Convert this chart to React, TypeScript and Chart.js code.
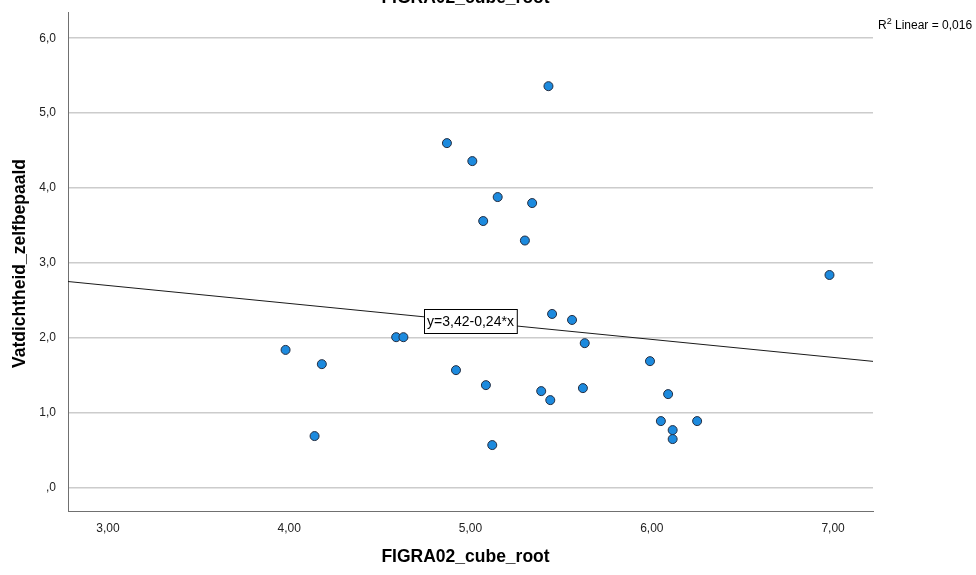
import React, { useEffect, useRef } from "react";
import { Chart, registerables } from "chart.js";

Chart.register(...registerables);

// ---- Data ----
const figraCubeRoot: number[] = [
  3.98, 4.18, 4.14, 4.59, 4.63, 4.92, 5.085, 5.12, 5.43, 4.87,
  5.01, 5.15, 5.34, 5.07, 5.30, 5.45, 5.56, 5.63, 5.99, 5.39,
  5.44, 5.62, 6.09, 6.05, 6.115, 6.115, 6.25, 6.98,
];
const vatdichtheid: number[] = [
  1.84, 1.65, 0.69, 2.01, 2.01, 1.57, 1.37, 0.57, 5.36, 4.60,
  4.36, 3.88, 3.80, 3.56, 3.30, 2.32, 2.24, 1.93, 1.69, 1.29,
  1.17, 1.33, 1.25, 0.89, 0.77, 0.65, 0.89, 2.84,
];

const xTicks: number[] = [3, 4, 5, 6, 7];
const xTickLabels: string[] = ["3,00", "4,00", "5,00", "6,00", "7,00"];
const yTicks: number[] = [0, 1, 2, 3, 4, 5, 6];
const yTickLabels: string[] = [",0", "1,0", "2,0", "3,0", "4,0", "5,0", "6,0"];

const X_MIN = 2.78;
const X_MAX = 7.22;
const Y_MIN = -0.31;
const Y_MAX = 6.35;

// Fit line (from the label in the chart)
const fitIntercept = 3.42;
const fitSlope = -0.24;
const fitLabel = "y=3,42-0,24*x";
const fitLabelAtX = 5;
const rSquaredText = " Linear = 0,016";

const chartTitle = "FIGRA02_cube_root";
const xTitle = "FIGRA02_cube_root";
const yTitle = "Vatdichtheid_zelfbepaald";

const FONT = '"Liberation Sans", Arial, sans-serif';

const textPlugin = {
  id: "spssTexts",
  afterDatasetsDraw(chart: any) {
    const { ctx, chartArea, scales } = chart;
    const xs = scales.x;
    const ys = scales.y;
    const cx = (chartArea.left + chartArea.right) / 2 - 5;
    const cy = (chartArea.top + chartArea.bottom) / 2 + 2;

    ctx.save();
    // equation box
    const lx = xs.getPixelForValue(fitLabelAtX);
    const ly = ys.getPixelForValue(fitIntercept + fitSlope * fitLabelAtX);
    ctx.font = `14px ${FONT}`;
    const tw = ctx.measureText(fitLabel).width;
    const bw = tw + 6;
    const bh = 24;
    const bx = Math.round(lx - bw / 2) + 0.5;
    const by = Math.round(ly - bh / 2) + 0.5;
    ctx.fillStyle = "#ffffff";
    ctx.fillRect(bx, by, bw, bh);
    ctx.strokeStyle = "#000000";
    ctx.lineWidth = 1;
    ctx.strokeRect(bx, by, bw, bh);
    ctx.fillStyle = "#000000";
    ctx.textAlign = "center";
    ctx.textBaseline = "middle";
    ctx.fillText(fitLabel, lx, ly + 1);

    // titles
    ctx.fillStyle = "#000000";
    ctx.font = `bold 17.5px ${FONT}`;
    ctx.textAlign = "center";
    ctx.textBaseline = "alphabetic";
    ctx.fillText(chartTitle, cx, 3);

    ctx.textBaseline = "middle";
    ctx.fillText(xTitle, cx, 557);

    ctx.save();
    ctx.translate(20, cy);
    ctx.rotate(-Math.PI / 2);
    ctx.fillText(yTitle, 0, 0);
    ctx.restore();

    // R^2 text
    ctx.font = `12px ${FONT}`;
    ctx.textAlign = "left";
    ctx.textBaseline = "middle";
    let tx = chartArea.right + 5;
    const ty = 26;
    ctx.fillText("R", tx, ty);
    tx += ctx.measureText("R").width;
    ctx.font = `9px ${FONT}`;
    ctx.fillText("2", tx, ty - 4);
    tx += ctx.measureText("2").width;
    ctx.font = `12px ${FONT}`;
    ctx.fillText(rSquaredText, tx, ty);
    ctx.restore();
  },
};

export default function App() {
  const canvasRef = useRef<HTMLCanvasElement | null>(null);

  useEffect(() => {
    document.body.style.margin = "0";
    const canvas = canvasRef.current;
    if (!canvas) return;

    const points = figraCubeRoot.map((x, i) => ({ x, y: vatdichtheid[i] }));
    const fitLine = [X_MIN, X_MAX].map((x) => ({ x, y: fitIntercept + fitSlope * x }));

    const chart = new Chart(canvas, {
      type: "scatter",
      data: {
        datasets: [
          {
            type: "line",
            data: fitLine,
            borderColor: "#1a1a1a",
            borderWidth: 1,
            pointRadius: 0,
            fill: false,
            order: 2,
          } as any,
          {
            data: points,
            pointRadius: 4.5,
            pointHoverRadius: 4.5,
            backgroundColor: "rgb(28,138,222)",
            borderColor: "rgb(35,45,65)",
            borderWidth: 1,
            order: 1,
          },
        ],
      },
      options: {
        responsive: false,
        animation: false,
        events: [],
        layout: { padding: { top: 12, right: 103, left: 0, bottom: 0 } },
        plugins: {
          legend: { display: false },
          tooltip: { enabled: false },
          title: { display: false },
        },
        scales: {
          x: {
            type: "linear",
            min: X_MIN,
            max: X_MAX,
            afterBuildTicks: (scale: any) => {
              scale.ticks = xTicks.map((v) => ({ value: v }));
            },
            afterFit: (scale: any) => {
              scale.height = 64;
              scale.paddingLeft = 0;
              scale.paddingRight = 0;
            },
            ticks: {
              callback: (_v: any, i: number) => xTickLabels[i],
              font: { family: FONT, size: 12 },
              color: "#222222",
              padding: 10,
              maxRotation: 0,
              autoSkip: false,
            },
            grid: { display: false, drawTicks: false },
            border: { display: true, color: "#707070", width: 1 },
          },
          y: {
            type: "linear",
            min: Y_MIN,
            max: Y_MAX,
            afterBuildTicks: (scale: any) => {
              scale.ticks = yTicks.map((v) => ({ value: v }));
            },
            afterFit: (scale: any) => {
              scale.width = 68;
              scale.paddingTop = 0;
              scale.paddingBottom = 0;
            },
            ticks: {
              callback: (_v: any, i: number) => yTickLabels[i],
              font: { family: FONT, size: 12 },
              color: "#222222",
              padding: 12,
              autoSkip: false,
            },
            grid: { display: true, drawTicks: false, color: "#cccccc", lineWidth: 1.5 },
            border: { display: true, color: "#707070", width: 1 },
          },
        },
      },
      plugins: [textPlugin],
    });

    return () => {
      chart.destroy();
    };
  }, []);

  return (
    <div style={{ width: 976, height: 575, background: "#ffffff" }}>
      <canvas ref={canvasRef} width={976} height={575} style={{ display: "block" }} />
    </div>
  );
}
